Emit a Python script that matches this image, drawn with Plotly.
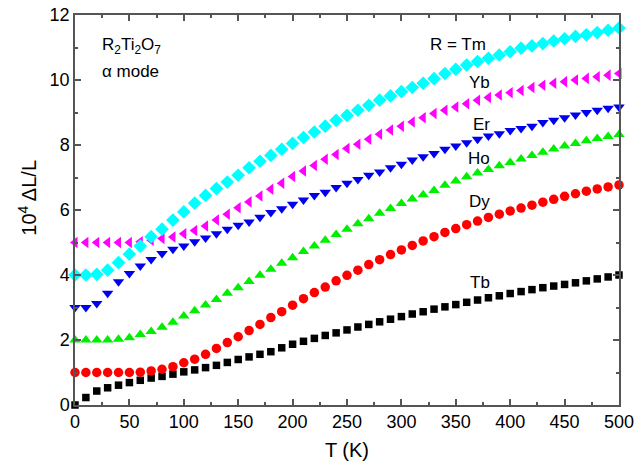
import plotly.graph_objects as go

T = list(range(0, 501, 10))

tb = [0.00, 0.23, 0.43, 0.53, 0.61, 0.69, 0.76, 0.83, 0.88, 0.95, 1.02, 1.08, 1.15, 1.22, 1.31,
      1.40, 1.48, 1.56, 1.64, 1.76, 1.87, 1.96, 2.05, 2.14, 2.22, 2.31, 2.40, 2.48, 2.56, 2.64,
      2.72, 2.80, 2.87, 2.95, 3.02, 3.09, 3.16, 3.23, 3.30, 3.36, 3.43, 3.49, 3.55, 3.61, 3.66,
      3.71, 3.76, 3.82, 3.88, 3.94, 4.00]
dy = [1.00, 1.00, 1.00, 1.00, 1.00, 1.00, 1.01, 1.05, 1.10, 1.18, 1.30, 1.41, 1.56, 1.74, 1.92,
      2.10, 2.29, 2.48, 2.69, 2.87, 3.07, 3.27, 3.46, 3.63, 3.82, 3.99, 4.15, 4.32, 4.47, 4.63,
      4.77, 4.91, 5.05, 5.18, 5.31, 5.43, 5.55, 5.66, 5.77, 5.87, 5.97, 6.06, 6.15, 6.24, 6.33,
      6.42, 6.50, 6.58, 6.65, 6.71, 6.77]
ho = [2.00, 2.00, 2.00, 2.00, 2.02, 2.07, 2.17, 2.26, 2.39, 2.55, 2.74, 2.90, 3.08, 3.25, 3.44,
      3.61, 3.80, 3.99, 4.18, 4.36, 4.53, 4.72, 4.89, 5.07, 5.25, 5.41, 5.58, 5.73, 5.90, 6.05,
      6.20, 6.34, 6.47, 6.60, 6.76, 6.89, 7.02, 7.14, 7.25, 7.36, 7.46, 7.57, 7.68, 7.78, 7.88,
      7.97, 8.05, 8.13, 8.20, 8.26, 8.32]
er = [3.00, 3.00, 3.12, 3.44, 3.79, 4.05, 4.28, 4.48, 4.66, 4.79, 4.89, 5.02, 5.14, 5.27, 5.41,
      5.53, 5.63, 5.78, 5.92, 6.04, 6.18, 6.31, 6.45, 6.55, 6.69, 6.82, 6.94, 7.07, 7.17, 7.30,
      7.41, 7.54, 7.64, 7.74, 7.87, 7.97, 8.07, 8.18, 8.28, 8.35, 8.45, 8.51, 8.58, 8.69, 8.76,
      8.84, 8.92, 9.00, 9.07, 9.13, 9.17]
yb = [5.00, 5.00, 5.00, 5.00, 5.00, 5.00, 5.02, 5.07, 5.12, 5.17, 5.27, 5.37, 5.51, 5.69, 5.87,
      6.07, 6.25, 6.43, 6.64, 6.82, 7.03, 7.20, 7.37, 7.56, 7.71, 7.89, 8.02, 8.18, 8.33, 8.46,
      8.58, 8.71, 8.84, 8.97, 9.07, 9.17, 9.27, 9.38, 9.46, 9.54, 9.61, 9.68, 9.77, 9.84, 9.90,
      9.95, 10.00, 10.05, 10.10, 10.15, 10.20]
tm = [4.00, 4.00, 4.02, 4.15, 4.38, 4.64, 4.89, 5.18, 5.41, 5.69, 5.94, 6.21, 6.45, 6.66, 6.86,
      7.07, 7.30, 7.50, 7.68, 7.87, 8.05, 8.23, 8.40, 8.58, 8.76, 8.91, 9.07, 9.22, 9.38, 9.51,
      9.64, 9.77, 9.90, 10.04, 10.20, 10.33, 10.46, 10.57, 10.67, 10.77, 10.87, 10.98, 11.05,
      11.12, 11.20, 11.27, 11.34, 11.39, 11.46, 11.53, 11.60]

series = [
    ("Tb", tb, "square", "#000000", 7.5),
    ("Dy", dy, "circle", "#ff0000", 9.5),
    ("Ho", ho, "triangle-up", "#00ee00", 10),
    ("Er", er, "triangle-down", "#0000ee", 10),
    ("Yb", yb, "triangle-left", "#ff00ff", 10),
    ("Tm", tm, "diamond", "#00ffff", 10.5),
]

labels = [("R = Tm", 352, 11.1), ("Yb", 372, 9.93), ("Er", 374, 8.64), ("Ho", 371, 7.59),
          ("Dy", 372, 6.26), ("Tb", 372, 3.78)]

fig = go.Figure()
for name, vals, sym, col, sz in series:
    fig.add_trace(go.Scatter(x=T, y=vals, mode="markers", name=name, cliponaxis=False,
                             marker=dict(symbol=sym, color=col, size=sz, line=dict(width=0))))

for txt, xv, yv in labels:
    fig.add_annotation(x=xv, y=yv, text=txt, showarrow=False, xanchor="center", yanchor="middle",
                       font=dict(size=17, color="black"))
fig.add_annotation(x=23, y=11.04, text="R<sub>2</sub>Ti<sub>2</sub>O<sub>7</sub>", showarrow=False,
                   xanchor="left", yanchor="middle", font=dict(size=17, color="black"))
fig.add_annotation(x=23, y=10.27, text="α mode", showarrow=False,
                   xanchor="left", yanchor="middle", font=dict(size=17, color="black"))
# y-axis title (placed slightly above the plot centre, as in the reference)
fig.add_annotation(xref="paper", yref="paper", x=-0.088, y=0.532, text="10<sup>4</sup> ΔL/L",
                   textangle=-90, showarrow=False, xanchor="center", yanchor="middle",
                   font=dict(size=20, color="black"))

axis_common = dict(showgrid=False, zeroline=False, showline=True, linecolor="#555555", linewidth=1.5,
                   mirror="ticks", ticks="inside", ticklen=6, tickwidth=1.5, tickcolor="#555555",
                   tickfont=dict(size=18, color="black"), ticklabeloverflow="allow",
                   automargin=False)
fig.update_xaxes(range=[0, 500], tick0=0, dtick=50,
                 minor=dict(ticks="inside", ticklen=3, tickcolor="#555555", dtick=25, tick0=0),
                 title=dict(text="T (K)", font=dict(size=20, color="black"), standoff=12), **axis_common)
fig.update_yaxes(range=[0, 12], tick0=0, dtick=2,
                 minor=dict(ticks="inside", ticklen=3, tickcolor="#555555", dtick=1, tick0=0),
                 **axis_common)
fig.update_layout(width=644, height=465, margin=dict(l=75, r=25, t=15, b=60),
                  plot_bgcolor="white", paper_bgcolor="white", showlegend=False,
                  font=dict(family="Liberation Sans, Arial, sans-serif", color="black"))
# remove the default 8px page margin so the figure fills the window exactly
fig.write_html("out.html", config={"displayModeBar": False},
               post_script="document.body.style.margin='0';")
